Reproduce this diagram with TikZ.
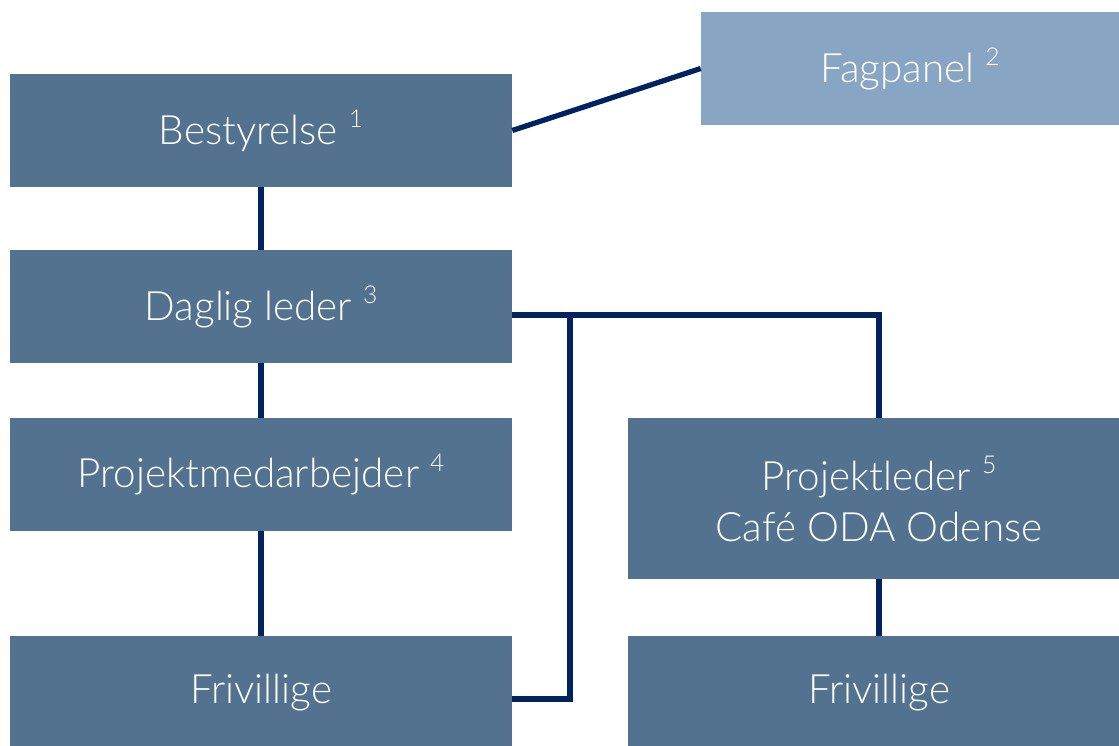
\documentclass[tikz,border=0pt]{standalone}
\usepackage{fontspec}
\setmainfont{Lato Light}
\usetikzlibrary{calc}
\definecolor{boksblaa}{RGB}{83,114,143}
\definecolor{lysblaa}{RGB}{136,165,195}
\definecolor{streg}{RGB}{0,35,96}
\newcommand{\noteno}[1]{\raisebox{0.42em}{\fontsize{14}{14}\selectfont #1}}

\begin{document}
\begin{tikzpicture}[x=0.02cm, y=-0.02cm,
	boks/.style={rectangle, fill=boksblaa, text=white, inner sep=0pt,
		minimum width=10.04cm, minimum height=2.26cm, align=center,
		font=\fontsize{23}{29}\selectfont},
	linje/.style={streg, line width=3pt}]

	\useasboundingbox (0,0) rectangle (1119,746);

	% Ledelse
	\node[boks] (B) at (261,130.5) {Bestyrelse \noteno{1}};
	\node[boks, fill=lysblaa, minimum width=8.36cm] (F) at (910,68.5) {Fagpanel \noteno{2}};
	\node[boks] (D) at (261,306.5) {Daglig leder \noteno{3}};

	\draw[linje] (B.east) -- (F.west);
	\draw[linje] (B.south) -- (D.north);

	% Medarbejdere
	\node[boks] (PM) at (261,474.5) {Projektmedarbejder \noteno{4}};
	\node[boks, minimum height=3.22cm] (PL) at (879,498.5) {Projektleder \noteno{5}\\Café ODA Odense};

	\coordinate (J) at (570,315);
	\draw[linje] (D.south) -- (PM.north);
	\draw[linje] ([yshift=-0.17cm]D.east) -| (PL.north);

	% Frivillige
	\node[boks] (FL) at (261,692.5) {Frivillige};
	\node[boks] (FR) at (879,692.5) {Frivillige};

	\draw[linje] (PM.south) -- (FL.north);
	\draw[linje] (PL.south) -- (FR.north);
	\draw[linje] (J) |- ([yshift=-0.13cm]FL.east);

\end{tikzpicture}
\end{document}
